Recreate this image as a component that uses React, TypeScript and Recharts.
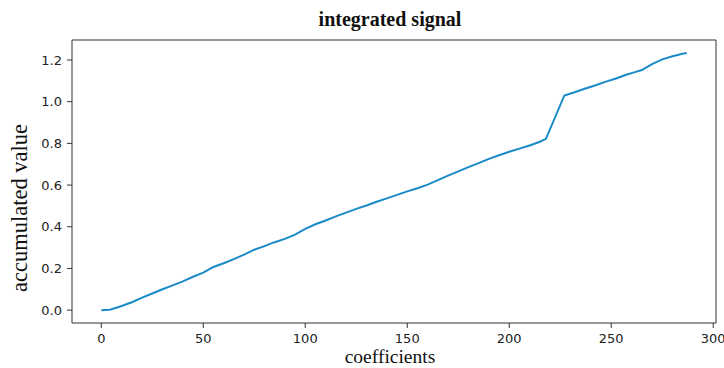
import { LineChart, Line, XAxis, YAxis, Label, ReferenceLine } from 'recharts';

// coefficient index -> running sum
const coefIndex = [
  0, 4, 5, 10, 15, 20, 25, 30, 35, 40, 45, 50, 55, 60, 65, 70, 75, 80, 85, 90,
  95, 100, 105, 110, 115, 120, 125, 130, 135, 140, 145, 150, 155, 160, 165, 170,
  175, 180, 185, 190, 195, 200, 205, 210, 215, 218, 227, 232, 237, 242, 247, 252,
  257, 262, 265, 270, 275, 280, 285, 287,
];
const accumulated = [
  0.0, 0.002, 0.004, 0.02, 0.038, 0.06, 0.08, 0.1, 0.119, 0.138, 0.16, 0.18, 0.207,
  0.225, 0.245, 0.266, 0.29, 0.307, 0.326, 0.342, 0.362, 0.39, 0.412, 0.43, 0.45,
  0.468, 0.486, 0.502, 0.52, 0.536, 0.553, 0.57, 0.585, 0.602, 0.624, 0.645, 0.666,
  0.686, 0.705, 0.726, 0.743, 0.76, 0.775, 0.79, 0.808, 0.822, 1.03, 1.045, 1.062,
  1.078, 1.095, 1.11, 1.128, 1.143, 1.152, 1.18, 1.203, 1.218, 1.23, 1.234,
];
const xTicks = [0, 50, 100, 150, 200, 250, 300];
const yTicks = [0.0, 0.2, 0.4, 0.6, 0.8, 1.0, 1.2];

const data = coefIndex.map((c, i) => ({ c, v: accumulated[i] }));

// matplotlib-style 5% padding around the data
const xDomain = [-14.35, 301.35];
const yDomain = [-0.0617, 1.296];

const serif = '"Liberation Serif", "Times New Roman", serif';
const sans = '"DejaVu Sans", sans-serif';
const spine = '#333';
const tickStyle = { fontSize: 13, fill: '#222', fontFamily: sans };

export default function App() {
  return (
    <div style={{ position: 'absolute', left: 0, top: 0, width: 724, height: 368, background: '#fff' }}>
      <div
        style={{
          position: 'absolute',
          left: 0,
          top: 7,
          width: 780,
          textAlign: 'center',
          fontFamily: serif,
          fontWeight: 'bold',
          fontSize: 20,
          lineHeight: '24px',
          color: '#111',
        }}
      >
        integrated signal
      </div>
      <LineChart width={724} height={368} data={data} margin={{ top: 40, right: 8, left: 12, bottom: 5 }}>
        <XAxis
          dataKey="c"
          type="number"
          domain={xDomain}
          ticks={xTicks}
          allowDataOverflow
          height={40}
          stroke={spine}
          tickSize={5}
          tickMargin={6}
          tick={tickStyle}
        >
          <Label
            content={({ viewBox }: any) => (
              <text
                x={viewBox.x + viewBox.width / 2 - 4}
                y={viewBox.y + 40}
                textAnchor="middle"
                fontFamily={serif}
                fontSize={19.5}
                fill="#111"
              >
                coefficients
              </text>
            )}
          />
        </XAxis>
        <YAxis
          type="number"
          domain={yDomain}
          ticks={yTicks}
          allowDataOverflow
          width={60}
          stroke={spine}
          tickSize={5}
          tickMargin={5}
          tick={tickStyle}
          tickFormatter={(v: number) => v.toFixed(1)}
        >
          <Label
            content={() => (
              <text
                x={27}
                y={208}
                transform="rotate(-90, 27, 208)"
                textAnchor="middle"
                fontFamily={serif}
                fontSize={22.5}
                fill="#111"
              >
                accumulated value
              </text>
            )}
          />
        </YAxis>
        {/* top and right spines */}
        <ReferenceLine y={yDomain[1]} stroke={spine} ifOverflow="extendDomain" />
        <ReferenceLine x={xDomain[1]} stroke={spine} ifOverflow="extendDomain" />
        <Line
          type="linear"
          dataKey="v"
          stroke="#1a8ac8"
          strokeWidth={2}
          dot={false}
          isAnimationActive={false}
        />
      </LineChart>
    </div>
  );
}
